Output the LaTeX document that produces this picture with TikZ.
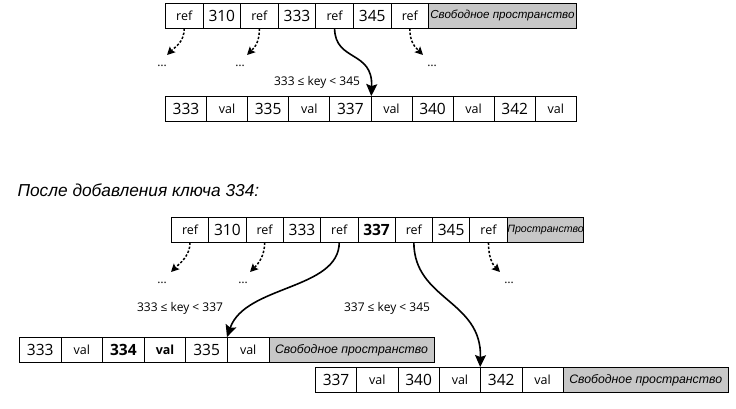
\documentclass[tikz,border=0pt]{standalone}
\usepackage{fontspec}
\setmainfont{Open Sans}
\newfontfamily\gost{Liberation Sans}
\usetikzlibrary{arrows.meta}

\newcommand\keyno[1]{{\fontsize{15.5}{15.5}\selectfont #1}}

\begin{document}
\begin{tikzpicture}[x=1pt, y=-1pt,
    cell/.style={draw, line width=0.8pt, minimum height=25pt, inner sep=0pt,
        anchor=west, font=\fontsize{12.5}{12.5}\selectfont},
    free/.style={cell, fill=black!22, font=\gost\itshape\fontsize{11.6}{12}\selectfont},
    link/.style={-{Stealth[length=12pt, width=11pt, inset=2pt]}, line width=1.6pt},
    hint/.style={-{Stealth[length=8pt, width=8pt, inset=1.5pt]}, line width=1.5pt,
        dash pattern=on 2.4pt off 1.8pt},
    note/.style={font=\fontsize{12}{12}\selectfont},
    more/.style={font=\fontsize{12}{12}\selectfont}]
    \useasboundingbox (0, 0) rectangle (736, 409);

    % before: index page and leaf page
    \foreach \t [count=\i] in {ref, \keyno{310}, ref, \keyno{333}, ref, \keyno{345}, ref} {
        \node[cell, minimum width=37.6pt] (t\i) at ({165 + (\i - 1) * 37.6}, 15.5) {\t};
    }
    \node[free, minimum width=148pt] (t8) at (428, 15.5) {Свободное пространство};
    \foreach \t [count=\i] in {\keyno{333}, val, \keyno{335}, val, \keyno{337}, val,
            \keyno{340}, val, \keyno{342}, val} {
        \node[cell, minimum width=41.1pt] (v\i) at ({165 + (\i - 1) * 41.1}, 109) {\t};
    }

    \foreach \p/\e/\n in {{167, 55}/{162, 66}/1, {247, 55}/{240, 66}/2} {
        \coordinate (e\n) at (\p);
        \node[more] (o\n) at (\e) {\dots};
    }
    \coordinate (e3) at (423, 55);
    \node[more] (o3) at (432, 66) {\dots};
    \draw[hint] (t1.south) .. controls +(0, 14) and +(8, -8) .. (e1);
    \draw[hint] (t3.south) .. controls +(0, 14) and +(8, -8) .. (e2);
    \draw[hint] (t7.south) .. controls +(0, 14) and +(-8, -8) .. (e3);
    \draw[link] (t5.south) .. controls (335, 62) and (373, 50) .. (v5.north east);
    \node[note] (k1) at (317, 82) {333 ≤ key < 345};

    \node[font=\gost\itshape\fontsize{17.3}{20}\selectfont, anchor=west]
        (title) at (14, 190) {После добавления ключа 334:};

    % after: index page and two leaf pages
    \foreach \t [count=\i] in {ref, \keyno{310}, ref, \keyno{333}, ref, \keyno{\bfseries 337},
            ref, \keyno{345}, ref} {
        \node[cell, minimum width=37.3pt] (u\i) at ({171 + (\i - 1) * 37.3}, 229.5) {\t};
    }
    \node[free, minimum width=76pt, font=\gost\itshape\fontsize{10.6}{11}\selectfont]
        (u10) at (507, 229.5) {Пространство};
    \foreach \t [count=\i] in {\keyno{333}, val, \keyno{\bfseries 334}, \textbf{val},
            \keyno{335}, val} {
        \node[cell, minimum width=41.6pt] (l\i) at ({19 + (\i - 1) * 41.6}, 350) {\t};
    }
    \node[free, minimum width=165pt, font=\gost\itshape\fontsize{12.3}{13}\selectfont]
        (l7) at (268.6, 350) {Свободное пространство};
    \foreach \t [count=\i] in {\keyno{337}, val, \keyno{340}, val, \keyno{342}, val} {
        \node[cell, minimum width=41.3pt] (r\i) at ({315 + (\i - 1) * 41.3}, 380) {\t};
    }
    \node[free, minimum width=165pt, font=\gost\itshape\fontsize{12.3}{13}\selectfont]
        (r7) at (562.8, 380) {Свободное пространство};

    \foreach \p/\e/\n in {{171, 272}/{162, 283}/4, {250, 272}/{243, 283}/5} {
        \coordinate (e\n) at (\p);
        \node[more] (o\n) at (\e) {\dots};
    }
    \coordinate (e6) at (500, 272);
    \node[more] (o6) at (509, 283) {\dots};
    \draw[hint] (u1.south) .. controls +(0, 14) and +(8, -8) .. (e4);
    \draw[hint] (u3.south) .. controls +(0, 14) and +(8, -8) .. (e5);
    \draw[hint] (u9.south) .. controls +(0, 14) and +(-8, -8) .. (e6);
    \draw[link] (u5.south) .. controls (339, 290) and (245, 285) .. (l6.north west);
    \draw[link] (u7.south) .. controls (414, 300) and (482, 300) .. (r5.north west);
    \node[note] (k2) at (180, 308) {333 ≤ key < 337};
    \node[note] (k3) at (387, 308) {337 ≤ key < 345};
\end{tikzpicture}
\end{document}
